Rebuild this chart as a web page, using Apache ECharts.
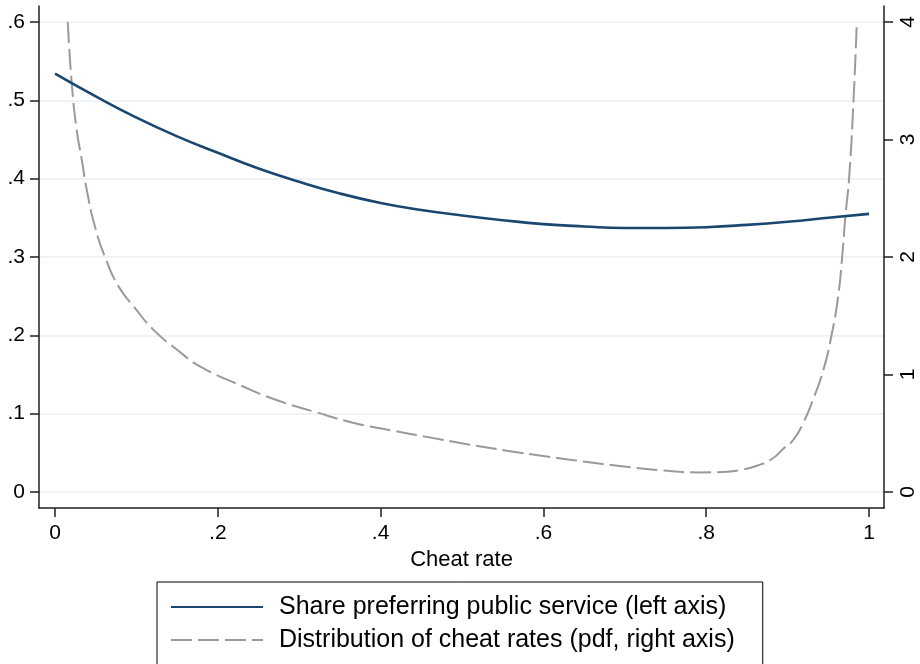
<!DOCTYPE html>
<html>
<head>
<meta charset="utf-8">
<script src="https://cdn.jsdelivr.net/npm/echarts@6/dist/echarts.min.js"></script>
<style>
html,body{margin:0;padding:0;background:#fff;}
#chart{width:920px;height:664px;}
</style>
</head>
<body>
<div id="chart"></div>
<script>
// ---- data ----
const shareX = [0, 0.05, 0.1, 0.15, 0.2, 0.25, 0.3, 0.35, 0.4, 0.45, 0.5, 0.55, 0.6, 0.65, 0.7, 0.75, 0.8, 0.85, 0.9, 0.95, 1.0];
const shareY = [0.534, 0.505, 0.478, 0.454, 0.433, 0.413, 0.396, 0.381, 0.369, 0.360, 0.353, 0.347, 0.342, 0.339, 0.337, 0.337, 0.338, 0.341, 0.345, 0.350, 0.355];

const pdfX = [0.0156, 0.0205, 0.0266, 0.0328, 0.039, 0.049, 0.0614, 0.078, 0.10, 0.121, 0.15, 0.178, 0.227, 0.272, 0.319, 0.366, 0.413, 0.46, 0.508, 0.555, 0.602, 0.649, 0.696, 0.743, 0.79, 0.82, 0.842, 0.865, 0.882, 0.895, 0.907, 0.919, 0.932, 0.944, 0.954, 0.962, 0.967, 0.971, 0.9755, 0.981, 0.985];
const pdfY = [4.0, 3.48, 3.08, 2.83, 2.57, 2.26, 2.0, 1.75, 1.55, 1.38, 1.21, 1.07, 0.91, 0.783, 0.683, 0.59, 0.525, 0.465, 0.405, 0.352, 0.305, 0.260, 0.220, 0.186, 0.167, 0.170, 0.187, 0.23, 0.287, 0.37, 0.443, 0.585, 0.80, 1.04, 1.336, 1.66, 2.0, 2.35, 2.67, 3.34, 4.0];

const xTicks = [0, 0.2, 0.4, 0.6, 0.8, 1];
const leftTicks = [0, 0.1, 0.2, 0.3, 0.4, 0.5, 0.6];
const rightTicks = [0, 1, 2, 3, 4];

const seriesNames = ['Share preferring public service (left axis)', 'Distribution of cheat rates (pdf, right axis)'];
const xTitle = 'Cheat rate';

// ---- helpers ----
function stataFmt(v) {
  const s = (+v.toFixed(4)).toString();
  return s.replace(/^0\./, '.').replace(/^-0\./, '-.');
}
function pairs(xs, ys) { return xs.map((x, i) => [x, ys[i]]); }

const FONT = 'Liberation Sans, Arial, Helvetica, sans-serif';
const AXIS_COLOR = '#1f1f1f';
const TICK_FS = 21;

const chart = echarts.init(document.getElementById('chart'), null, {renderer: 'canvas'});
chart.setOption({
  animation: false,
  backgroundColor: '#ffffff',
  textStyle: {fontFamily: FONT},
  grid: {left: 39, right: 36, top: 6, bottom: 156, containLabel: false},
  xAxis: {
    type: 'value',
    min: -0.0197, max: 1.0184,
    name: xTitle,
    nameLocation: 'middle',
    nameGap: 37,
    nameTextStyle: {fontSize: 22, color: '#000', fontFamily: FONT},
    axisLine: {show: true, onZero: false, lineStyle: {color: AXIS_COLOR, width: 1.5}},
    axisTick: {show: true, length: 9, customValues: xTicks, lineStyle: {color: AXIS_COLOR, width: 1.5}},
    axisLabel: {customValues: xTicks, formatter: stataFmt, fontSize: TICK_FS, color: '#000', margin: 15, fontFamily: FONT},
    splitLine: {show: false}
  },
  yAxis: [
    {
      type: 'value',
      position: 'left',
      min: -0.0204, max: 0.6204,
      axisLine: {show: true, onZero: false, lineStyle: {color: AXIS_COLOR, width: 1.5}},
      axisTick: {show: true, length: 9, customValues: leftTicks, lineStyle: {color: AXIS_COLOR, width: 1.5}},
      axisLabel: {customValues: leftTicks, formatter: stataFmt, fontSize: TICK_FS, color: '#000', margin: 14, fontFamily: FONT},
      splitLine: {show: true, lineStyle: {color: '#e8f0f2', width: 1.5}}
    },
    {
      type: 'value',
      position: 'right',
      min: -0.136, max: 4.136,
      axisLine: {show: true, onZero: false, lineStyle: {color: AXIS_COLOR, width: 1.5}},
      axisTick: {show: true, length: 9, customValues: rightTicks, lineStyle: {color: AXIS_COLOR, width: 1.5}},
      axisLabel: {customValues: rightTicks, formatter: stataFmt, fontSize: TICK_FS, color: '#000', margin: 14, rotate: 90, fontFamily: FONT},
      splitLine: {show: false}
    }
  ],
  legend: {
    orient: 'vertical',
    left: 157,
    top: 582,
    height: 120,
    padding: [11, 28, 14, 13],
    borderColor: '#000',
    borderWidth: 1,
    itemWidth: 92,
    itemHeight: 28,
    itemGap: 5,
    itemStyle: {opacity: 0, borderWidth: 0},
    textStyle: {fontSize: 25, lineHeight: 28, color: '#000', fontFamily: FONT, padding: [0, 0, 0, 11]},
    data: seriesNames
  },
  series: [
    {
      name: seriesNames[0],
      type: 'line',
      yAxisIndex: 0,
      data: pairs(shareX, shareY),
      smooth: 0.5,
      symbol: 'none',
      lineStyle: {color: '#1a476f', width: 2.6},
      itemStyle: {color: '#1a476f'},
      z: 3
    },
    {
      name: seriesNames[1],
      type: 'line',
      yAxisIndex: 1,
      data: pairs(pdfX, pdfY),
      smooth: 0.5,
      symbol: 'none',
      lineStyle: {color: '#9a9a9a', width: 2, type: [21, 6]},
      itemStyle: {color: '#9a9a9a'},
      z: 2
    }
  ]
});
</script>
</body>
</html>
